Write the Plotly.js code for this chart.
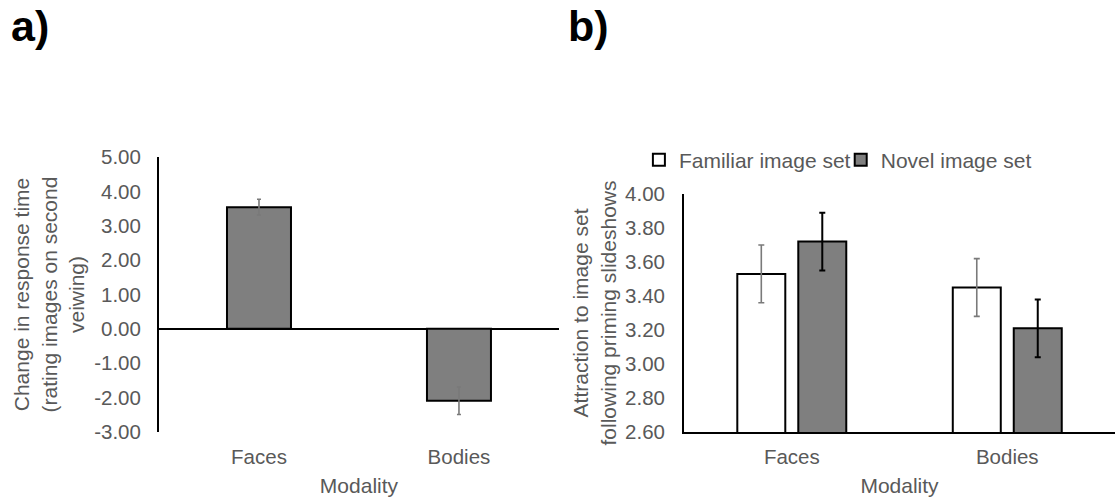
<!DOCTYPE html>
<html>
<head>
<meta charset="utf-8">
<script src="https://cdn.plot.ly/plotly-3.0.1.min.js"></script>
<style>html,body{margin:0;padding:0;background:#fff;}#chart{width:1115px;height:497px;}</style>
</head>
<body>
<div id="chart"></div>
<script>
// Panel a) data
var categories = ['Faces', 'Bodies'];
var changeValues = [3.54, -2.09];
var changeErrors = [0.23, 0.40];

// Panel b) data
var familiarValues = [3.53, 3.45];
var familiarErrors = [0.17, 0.17];
var novelValues = [3.72, 3.21];
var novelErrors = [0.17, 0.17];

var leftTicks = [-3, -2, -1, 0, 1, 2, 3, 4, 5];
var rightTicks = [2.6, 2.8, 3.0, 3.2, 3.4, 3.6, 3.8, 4.0];
var leftTickText = leftTicks.map(function (v) { return v.toFixed(2); });
var rightTickText = rightTicks.map(function (v) { return v.toFixed(2); });

var FONT = 'Liberation Sans, Arial, sans-serif';
var GREY = '#595959';
var BARGREY = '#7f7f7f';

var traces = [
  {
    type: 'bar', x: categories, y: changeValues, xaxis: 'x', yaxis: 'y',
    width: 0.32, showlegend: false,
    marker: {color: BARGREY, line: {color: '#000', width: 2}},
    error_y: {type: 'data', array: changeErrors, visible: true, color: '#7a7a7a', thickness: 1.6, width: 2}
  },
  {
    type: 'bar', name: 'Familiar image set', x: categories, y: familiarValues, xaxis: 'x2', yaxis: 'y2',
    marker: {color: '#ffffff', line: {color: '#000', width: 2}},
    error_y: {type: 'data', array: familiarErrors, visible: true, color: '#7a7a7a', thickness: 1.6, width: 3},
    legend: 'legend'
  },
  {
    type: 'bar', name: 'Novel image set', x: categories, y: novelValues, xaxis: 'x2', yaxis: 'y2',
    marker: {color: BARGREY, line: {color: '#000', width: 2}},
    error_y: {type: 'data', array: novelErrors, visible: true, color: '#000', thickness: 2, width: 3},
    legend: 'legend2'
  }
];

var tickFont = {family: FONT, size: 20.5, color: GREY};
var titleFont = {family: FONT, size: 21, color: GREY};

var layout = {
  width: 1115, height: 497,
  margin: {l: 0, r: 0, t: 0, b: 0},
  paper_bgcolor: '#fff', plot_bgcolor: 'rgba(0,0,0,0)',
  barmode: 'group', bargap: 0.434, bargroupgap: 0.213,
  font: {family: FONT, color: GREY},
  xaxis: {
    domain: [0.1426, 0.5013], anchor: 'y', range: [-0.5, 1.5],
    showline: false, showgrid: false, zeroline: false, ticks: '',
    tickfont: tickFont, ticklabelstandoff: 11,
    title: {text: 'Modality', font: titleFont, standoff: 11}
  },
  yaxis: {
    domain: [0.1308, 0.6841], anchor: 'x', range: [-3, 5],
    tickvals: leftTicks, ticktext: leftTickText,
    showline: true, linecolor: '#000', linewidth: 2,
    showgrid: false, zeroline: true, zerolinecolor: '#000', zerolinewidth: 2,
    ticks: '', tickfont: tickFont, ticklabelstandoff: 12,
    title: {text: 'Change in response time<br>(rating images on second<br>veiwing)', font: titleFont, standoff: 4}
  },
  xaxis2: {
    domain: [0.6135, 1.0], anchor: 'y2', range: [-0.5, 1.5],
    showline: true, linecolor: '#000', linewidth: 2,
    showgrid: false, zeroline: false, ticks: '',
    tickfont: tickFont, ticklabelstandoff: 5,
    title: {text: 'Modality', font: titleFont, standoff: 12}
  },
  yaxis2: {
    domain: [0.1308, 0.6097], anchor: 'x2', range: [2.6, 4.0],
    tickvals: rightTicks, ticktext: rightTickText,
    showline: true, linecolor: '#000', linewidth: 2,
    showgrid: false, zeroline: false,
    ticks: '', tickfont: tickFont, ticklabelstandoff: 13,
    title: {text: 'Attraction to image set<br>following priming slideshows', font: titleFont, standoff: 3}
  },
  legend: {
    x: 0.573, y: 0.678, xanchor: 'left', yanchor: 'middle',
    orientation: 'h', font: {family: FONT, size: 21, color: GREY},
    bgcolor: 'rgba(0,0,0,0)', itemclick: false
  },
  legend2: {
    x: 0.754, y: 0.678, xanchor: 'left', yanchor: 'middle',
    orientation: 'h', font: {family: FONT, size: 21, color: GREY},
    bgcolor: 'rgba(0,0,0,0)', itemclick: false
  },
  annotations: [
    {text: '<b>a)</b>', xref: 'paper', yref: 'paper', x: 0.008, y: 0.948, xanchor: 'left', yanchor: 'middle',
     showarrow: false, font: {family: FONT, size: 43, color: '#000'}},
    {text: '<b>b)</b>', xref: 'paper', yref: 'paper', x: 0.508, y: 0.948, xanchor: 'left', yanchor: 'middle',
     showarrow: false, font: {family: FONT, size: 43, color: '#000'}}
  ]
};

Plotly.newPlot('chart', traces, layout, {displayModeBar: false, staticPlot: true});
</script>
</body>
</html>
